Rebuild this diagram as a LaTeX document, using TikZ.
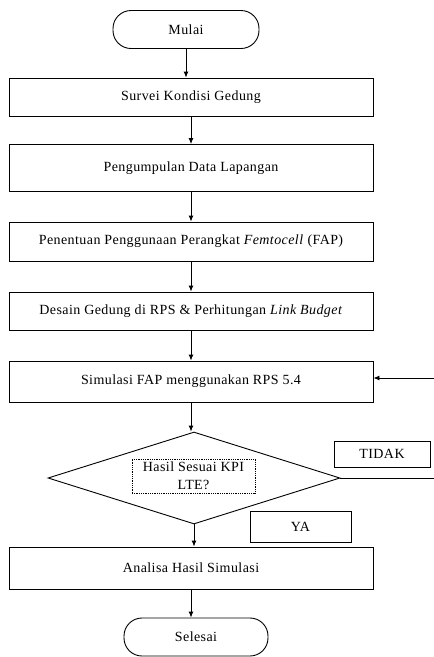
\documentclass[tikz,border=0pt]{standalone}
\usepackage{fontspec}
\setmainfont{Liberation Serif}[LetterSpace=3]
\usetikzlibrary{positioning,arrows.meta,shapes.geometric}

\tikzset{
  proses/.style={draw, line width=0.9pt, minimum width=364pt, inner sep=0pt},
  terminal/.style={draw, line width=0.9pt, rounded corners=18pt, minimum height=38pt, inner sep=0pt},
  keputusan/.style={draw, diamond, line width=0.9pt, minimum width=292pt, minimum height=92pt, inner sep=0pt},
  ket/.style={draw, line width=0.9pt, inner sep=0pt},
  panah/.style={line width=0.9pt, -{Latex[length=6pt,width=5pt]}}
}

\begin{document}
\begin{tikzpicture}[x=1pt, y=-1pt, font=\fontsize{14}{18}\selectfont]
    \useasboundingbox (0,0) rectangle (434,657);
    \node[terminal, minimum width=146pt] (mulai) at (186,29.5) {Mulai};
    \node[proses, minimum height=38pt] (survei) at (191,97) {Survei Kondisi Gedung};
    \node[proses, minimum height=47pt] (data) at (191,168) {Pengumpulan Data Lapangan};
    \node[proses, minimum height=39pt] (fap) at (191,241.5) {Penentuan Penggunaan Perangkat \textit{Femtocell} (FAP)};
    \node[proses, minimum height=38pt] (desain) at (191,311) {Desain Gedung di RPS \& Perhitungan \textit{Link Budget}};
    \node[proses, minimum height=41pt] (simulasi) at (191,381.5) {Simulasi FAP menggunakan RPS 5.4};
    \node[keputusan] (cek) at (194,478) {};
    \node[draw, densely dotted, line width=0.8pt, align=center, minimum width=123pt, minimum height=34pt, inner sep=1pt] (kpi) at (193.5,476) {Hasil Sesuai KPI\\LTE?};
    \node[ket, minimum width=96pt, minimum height=26pt] (tidak) at (382,454) {TIDAK};
    \node[ket, minimum width=101pt, minimum height=31pt] (ya) at (300.5,526.5) {YA};
    \node[proses, minimum height=42pt] (analisa) at (191,568) {Analisa Hasil Simulasi};
    \node[terminal, minimum width=144pt] (selesai) at (196,637) {Selesai};
    \coordinate (ujung1) at (434,478);
    \coordinate (ujung2) at (434,378);
    % alur utama
    \draw[panah] (mulai.south) -- (mulai.south |- survei.north);
    \draw[panah] (survei.south) -- (survei.south |- data.north);
    \draw[panah] (data.south) -- (data.south |- fap.north);
    \draw[panah] (fap.south) -- (fap.south |- desain.north);
    \draw[panah] (desain.south) -- (desain.south |- simulasi.north);
    \draw[panah] (simulasi.south) -- (simulasi.south |- cek.north);
    \draw[panah] (cek.south) -- (cek.south |- analisa.north);
    \draw[panah] (analisa.south) -- (analisa.south |- selesai.north);
    % kembali ke simulasi
    \draw[line width=0.9pt] (cek.east) -- (ujung1);
    \draw[panah] (ujung2) -- (simulasi.east |- ujung2);
\end{tikzpicture}
\end{document}
